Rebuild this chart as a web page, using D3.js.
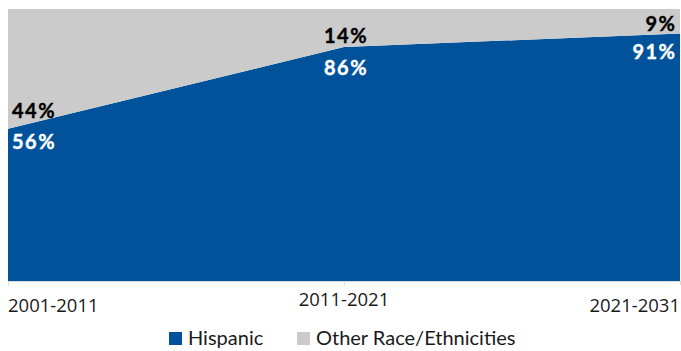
<!DOCTYPE html>
<html>
<head>
<meta charset="utf-8">
<script src="https://cdn.jsdelivr.net/npm/d3@7"></script>
<style>
  body { margin: 0; background: #fff; }
  svg { display: block; }
</style>
</head>
<body>
<div id="chart"></div>
<script>
// data
const periods = ["2001-2011", "2011-2021", "2021-2031"];
const hispanic = [56, 86, 91];
const other = [44, 14, 9];
const seriesNames = ["Hispanic", "Other Race/Ethnicities"];

const colors = ["#00529b", "#cbcbcb"];

// set the dimensions of the graph
const W = 681, H = 351;
const plot = {left: 8, right: 680, top: 9, bottom: 281};

const svg = d3.select("#chart")
    .append("svg")
        .attr("width", W)
        .attr("height", H);

const rows = periods.map((p, i) => ({period: p, hispanic: hispanic[i], other: other[i]}));
const keys = ["hispanic", "other"];

const stackedData = d3.stack().keys(keys)(rows);

const x = d3.scalePoint()
    .domain(periods)
    .range([plot.left, plot.right]);

const y = d3.scaleLinear()
    .domain([0, 100])
    .range([plot.bottom, plot.top]);

const area = d3.area()
    .x(d => x(d.data.period))
    .y0(d => y(d[0]))
    .y1(d => y(d[1]));

svg.append("g")
    .selectAll("path")
    .data(stackedData)
    .join("path")
        .attr("fill", (d, i) => colors[i])
        .attr("d", area);

// x axis
const axis = svg.append("g")
    .attr("transform", `translate(0,${plot.bottom})`)
    .call(d3.axisBottom(x).tickSize(4).tickSizeOuter(0).tickFormat(""));
axis.select(".domain").attr("stroke", "#d9d9d9");
axis.selectAll(".tick line").attr("stroke", "#d9d9d9");

// tick labels: Excel staggers them, ends anchored to the edges
const tickAnchor = ["start", "middle", "end"];
const tickBaseline = [312, 306, 312];
svg.append("g")
    .selectAll("text")
    .data(periods)
    .join("text")
        .attr("x", d => x(d))
        .attr("y", (d, i) => tickBaseline[i])
        .attr("text-anchor", (d, i) => tickAnchor[i])
        .style("font-family", "'Open Sans', sans-serif")
        .style("font-size", "18.5px")
        .style("fill", "#1a1a1a")
        .text(d => d);

// data labels
const labelAnchor = ["start", "middle", "end"];
const labelDx = [4, 2, -3.5];
const otherDy = [-11, -4, -2.6];
const hispDy = [20, 28, 26];

const labels = svg.append("g")
    .style("font-family", "Lato, sans-serif")
    .style("font-weight", "bold")
    .style("font-size", "20px")
    .style("letter-spacing", "1.5px");

labels.selectAll(".lab-other")
    .data(rows)
    .join("text")
        .attr("class", "lab-other")
        .attr("x", (d, i) => x(d.period) + labelDx[i])
        .attr("y", (d, i) => y(d.hispanic) + otherDy[i])
        .attr("text-anchor", (d, i) => labelAnchor[i])
        .style("fill", "#000")
        .style("stroke", "#000")
        .style("stroke-width", 0.4)
        .text(d => d.other + "%");

labels.selectAll(".lab-hisp")
    .data(rows)
    .join("text")
        .attr("class", "lab-hisp")
        .attr("x", (d, i) => x(d.period) + labelDx[i])
        .attr("y", (d, i) => y(d.hispanic) + hispDy[i])
        .attr("text-anchor", (d, i) => labelAnchor[i])
        .style("fill", "#fff")
        .style("stroke", "#fff")
        .style("stroke-width", 0.4)
        .text(d => d.hispanic + "%");

// legend
const legendX = [169, 297];
const legend = svg.selectAll(".legend")
    .data(seriesNames)
    .join("g")
        .attr("class", "legend")
        .attr("transform", (d, i) => `translate(${legendX[i]},332)`);

legend.append("rect")
    .attr("width", 13)
    .attr("height", 13)
    .attr("fill", (d, i) => colors[i]);

legend.append("text")
    .attr("x", 19)
    .attr("y", 13)
    .style("font-family", "Lato, sans-serif")
    .style("font-size", "20px")
    .style("fill", "#1a1a1a")
    .text(d => d);
</script>
</body>
</html>
